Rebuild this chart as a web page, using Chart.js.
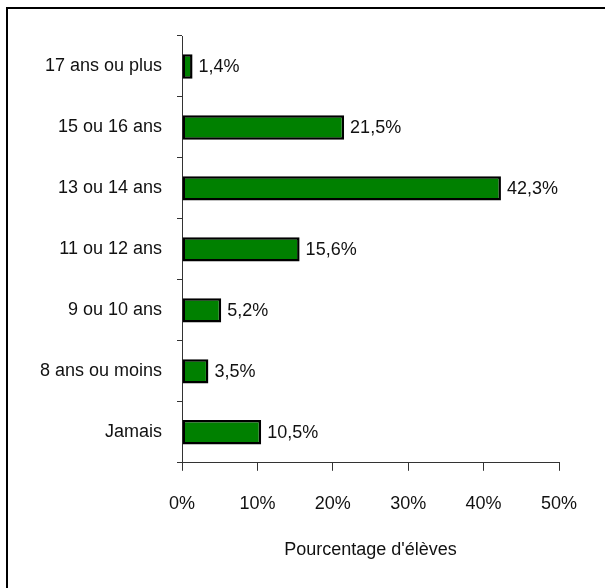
<!DOCTYPE html>
<html>
<head>
<meta charset="utf-8">
<script src="https://cdn.jsdelivr.net/npm/chart.js@4/dist/chart.umd.min.js"></script>
<style>
  html, body { margin: 0; padding: 0; background: #fff; overflow: hidden; }
  #wrap { position: relative; width: 605px; height: 588px; overflow: hidden; }
  #wrap canvas { position: absolute; left: 0; top: 0; }
  #frame { position: absolute; left: 6px; top: 7px; width: 700px; height: 700px; border: 2px solid #000; }
</style>
</head>
<body>
<div id="wrap">
  <div id="frame"></div>
  <canvas id="chart1" width="605" height="588"></canvas>
</div>
<script>
// categories, top to bottom as in the picture
var ages = ['17 ans ou plus', '15 ou 16 ans', '13 ou 14 ans', '11 ou 12 ans', '9 ou 10 ans', '8 ans ou moins', 'Jamais'];
var pourcentages = [1.4, 21.5, 42.3, 15.6, 5.2, 3.5, 10.5];
var xTicks = [0, 10, 20, 30, 40, 50];
var titreX = "Pourcentage d'élèves";

var police = "'Liberation Sans', Arial, sans-serif";
var taille = 18;

function formatPct(v){
    return v.toFixed(1).replace('.', ',') + '%';
}

/* etiquettes a droite des barres */
var valeursPlugin = {
    id: 'valeurs',
    afterDatasetsDraw: function(chart){
        var ctx = chart.ctx;
        var meta = chart.getDatasetMeta(0);
        ctx.save();
        ctx.font = taille + 'px ' + police;
        ctx.fillStyle = '#111';
        ctx.textAlign = 'left';
        ctx.textBaseline = 'middle';
        meta.data.forEach(function(bar, i){
            ctx.fillText(formatPct(pourcentages[i]), bar.x + 6, bar.y + 1);
        });
        ctx.restore();
    }
};

var ctx = document.getElementById('chart1').getContext('2d');
var chart = new Chart(ctx, {
    type: 'bar',
    data: {
        labels: ages,
        datasets: [{
            data: pourcentages,
            backgroundColor: '#008000',
            borderColor: '#000',
            borderWidth: 2.5,
            borderSkipped: false,
            barPercentage: 0.4,
            categoryPercentage: 1
        }]
    },
    options: {
        indexAxis: 'y',
        responsive: false,
        animation: false,
        layout: {
            padding: { left: 0, right: 46, top: 36, bottom: 27 }
        },
        plugins: {
            legend: { display: false },
            tooltip: { enabled: false }
        },
        scales: {
            x: {
                min: 0,
                max: 50,
                afterBuildTicks: function(scale){
                    scale.ticks = xTicks.map(function(v){ return { value: v }; });
                },
                grid: {
                    drawOnChartArea: false,
                    tickLength: 8,
                    color: '#333',
                    lineWidth: 1
                },
                border: { color: '#333', width: 1 },
                ticks: {
                    padding: 22,
                    color: '#111',
                    font: { family: police, size: taille },
                    callback: function(v){ return v + '%'; }
                },
                title: {
                    display: true,
                    text: titreX,
                    color: '#111',
                    font: { family: police, size: taille },
                    padding: { top: 3, bottom: 0 }
                }
            },
            y: {
                afterFit: function(scale){
                    scale.width = 182;
                },
                grid: {
                    offset: true,
                    drawOnChartArea: false,
                    tickLength: 5,
                    color: '#333',
                    lineWidth: 1
                },
                border: { color: '#333', width: 1 },
                ticks: {
                    padding: 15,
                    color: '#111',
                    font: { family: police, size: taille }
                }
            }
        }
    },
    plugins: [valeursPlugin]
});
</script>
</body>
</html>
